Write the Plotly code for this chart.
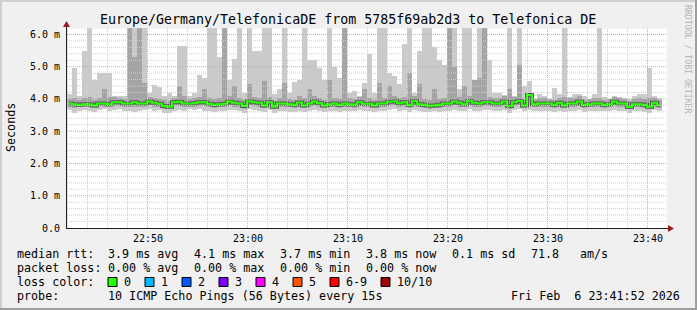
import numpy as np
import pandas as pd
import plotly.graph_objects as go

# ---------------- data (ms), one value per 30 s step ----------------
median = [3.86, 3.84, 3.82, 3.84, 3.84, 3.80, 3.86, 3.86, 3.84, 3.90,
          3.90, 3.86, 3.86, 3.90, 3.86, 3.86, 3.92, 3.88, 3.85, 3.78,
          3.76, 3.90, 3.91, 3.86, 3.86, 3.87, 3.90, 3.90, 3.85, 3.82,
          3.84, 3.85, 3.92, 3.88, 3.86, 3.78, 3.93, 3.90, 3.88, 3.80,
          3.90, 3.76, 3.86, 3.86, 3.84, 3.82, 3.89, 3.80, 3.86, 3.92,
          3.87, 3.80, 3.84, 3.86, 3.82, 3.86, 3.84, 3.83, 3.90, 3.85,
          3.85, 3.80, 3.86, 3.86, 3.91, 3.93, 3.87, 3.90, 3.82, 3.94,
          3.84, 3.82, 3.79, 3.80, 3.82, 3.86, 3.86, 3.92, 3.88, 3.84,
          3.94, 3.88, 3.86, 3.90, 3.90, 3.86, 3.86, 3.92, 3.78, 3.90,
          3.94, 3.80, 4.12, 3.84, 3.86, 3.86, 3.86, 3.82, 3.88, 3.80,
          3.86, 3.86, 3.92, 3.82, 3.84, 3.86, 3.86, 3.82, 3.84, 3.92,
          3.86, 3.86, 3.75, 3.84, 3.84, 3.82, 3.76, 3.88, 3.82]

ping_min = [3.66, 3.58, 3.64, 3.66, 3.62, 3.60, 3.66, 3.68, 3.64, 3.66,
            3.68, 3.64, 3.62, 3.60, 3.64, 3.66, 3.68, 3.64, 3.66, 3.58,
            3.56, 3.64, 3.66, 3.62, 3.68, 3.66, 3.68, 3.64, 3.62, 3.60,
            3.62, 3.64, 3.66, 3.66, 3.62, 3.58, 3.68, 3.66, 3.62, 3.60,
            3.66, 3.58, 3.62, 3.64, 3.60, 3.60, 3.64, 3.60, 3.64, 3.66,
            3.64, 3.60, 3.62, 3.64, 3.60, 3.64, 3.62, 3.62, 3.66, 3.64,
            3.62, 3.60, 3.64, 3.62, 3.66, 3.68, 3.64, 3.66, 3.60, 3.66,
            3.62, 3.60, 3.60, 3.62, 3.60, 3.64, 3.64, 3.66, 3.62, 3.62,
            3.68, 3.64, 3.62, 3.66, 3.66, 3.64, 3.64, 3.66, 3.58, 3.66,
            3.68, 3.62, 3.66, 3.64, 3.64, 3.62, 3.64, 3.60, 3.64, 3.60,
            3.64, 3.62, 3.66, 3.60, 3.62, 3.64, 3.64, 3.62, 3.64, 3.66,
            3.64, 3.62, 3.58, 3.62, 3.62, 3.60, 3.58, 3.66, 3.62]

ping_2nd = [3.76, 3.72, 3.74, 3.76, 3.74, 3.72, 3.77, 3.76, 3.74, 3.78,
            3.78, 3.75, 3.74, 3.76, 3.75, 3.76, 3.80, 3.76, 3.75, 3.70,
            3.68, 3.78, 3.78, 3.74, 3.76, 3.76, 3.78, 3.78, 3.74, 3.72,
            3.74, 3.75, 3.80, 3.76, 3.74, 3.70, 3.80, 3.78, 3.76, 3.72,
            3.78, 3.68, 3.74, 3.76, 3.74, 3.72, 3.76, 3.72, 3.75, 3.80,
            3.76, 3.72, 3.74, 3.76, 3.72, 3.76, 3.74, 3.73, 3.78, 3.75,
            3.74, 3.72, 3.76, 3.74, 3.78, 3.80, 3.76, 3.78, 3.72, 3.80,
            3.74, 3.72, 3.70, 3.72, 3.72, 3.76, 3.76, 3.80, 3.76, 3.74,
            3.80, 3.76, 3.74, 3.78, 3.78, 3.76, 3.76, 3.78, 3.70, 3.78,
            3.80, 3.72, 3.78, 3.74, 3.76, 3.76, 3.76, 3.72, 3.76, 3.72,
            3.76, 3.76, 3.78, 3.72, 3.74, 3.76, 3.76, 3.72, 3.74, 3.80,
            3.76, 3.76, 3.68, 3.74, 3.74, 3.72, 3.68, 3.78, 3.72]

ping_9th = [4.00, 4.02, 3.98, 4.02, 4.05, 3.98, 4.02, 4.30, 4.05, 4.06,
            4.04, 4.00, 6.50, 5.30, 6.50, 4.50, 4.06, 4.04, 4.00, 3.96,
            3.94, 4.04, 4.40, 4.08, 4.00, 4.02, 4.06, 4.30, 4.04, 4.00,
            4.02, 6.50, 4.10, 4.40, 4.04, 3.96, 4.45, 4.06, 4.04, 4.55,
            4.06, 3.94, 4.02, 4.50, 4.00, 3.98, 4.08, 4.04, 4.30, 4.08,
            4.04, 3.98, 4.60, 4.04, 4.00, 6.50, 4.02, 4.00, 4.06, 4.30,
            4.02, 3.98, 4.50, 4.04, 4.40, 4.08, 4.04, 4.06, 4.80, 4.10,
            4.45, 4.00, 3.96, 4.30, 4.00, 4.04, 6.50, 5.00, 4.06, 4.40,
            4.10, 4.60, 4.64, 6.50, 4.06, 4.02, 4.02, 4.08, 4.30, 4.06,
            5.05, 3.98, 4.20, 4.00, 4.02, 4.02, 4.00, 3.98, 4.04, 4.05,
            4.02, 4.02, 4.08, 3.98, 4.00, 4.02, 4.02, 3.98, 4.00, 4.06,
            4.02, 4.00, 3.94, 4.00, 4.02, 4.00, 4.02, 4.04, 3.98]

ping_max = [4.15, 4.97, 4.10, 5.48, 6.50, 4.60, 4.80, 4.80, 4.80, 4.10,
            4.10, 4.10, 6.50, 6.50, 6.50, 6.50, 4.20, 4.43, 4.38, 4.10,
            4.17, 4.10, 5.65, 5.65, 4.10, 4.20, 4.74, 4.66, 6.50, 6.50,
            5.30, 6.50, 4.60, 5.25, 6.50, 4.20, 6.50, 5.48, 5.48, 6.50,
            6.50, 4.15, 4.30, 6.50, 4.20, 4.52, 4.60, 6.50, 5.20, 5.20,
            4.95, 4.60, 6.50, 5.00, 4.64, 6.50, 4.20, 4.25, 4.10, 4.50,
            5.40, 4.20, 6.50, 6.50, 4.80, 4.70, 4.45, 5.70, 6.50, 4.20,
            5.50, 6.50, 6.50, 5.60, 5.20, 5.05, 6.50, 6.50, 4.30, 6.50,
            6.50, 4.40, 6.50, 6.50, 5.20, 4.20, 4.20, 4.12, 6.50, 4.10,
            6.50, 4.40, 4.55, 4.00, 4.15, 4.10, 4.00, 4.35, 4.15, 6.50,
            4.05, 4.15, 4.15, 4.10, 4.00, 4.15, 6.50, 4.05, 4.00, 4.10,
            4.06, 4.04, 4.00, 4.10, 4.15, 4.15, 4.97, 4.10, 4.02]

y_ticks = [0, 1, 2, 3, 4, 5, 6]
y_labels = ["0.0", "1.0 m", "2.0 m", "3.0 m", "4.0 m", "5.0 m", "6.0 m"]
x_tick_times = ["22:50", "23:00", "23:10", "23:20", "23:30", "23:40"]

title_text = "Europe/Germany/TelefonicaDE from 5785f69ab2d3 to Telefonica DE"
rtt_stats = ["3.9 ms avg", "4.1 ms max", "3.7 ms min", "3.8 ms now", "0.1 ms sd", "71.8", "am/s"]
loss_stats = ["0.00 % avg", "0.00 % max", "0.00 % min", "0.00 % now"]
loss_labels = ["0", "1", "2", "3", "4", "5", "6-9", "10/10"]
loss_colors = ["#26ff00", "#00b8ff", "#0059ff", "#7e00ff", "#ff00ff", "#ff5500", "#ff0000", "#a10000"]
probe_text = "10 ICMP Echo Pings (56 Bytes) every 15s"
stamp_text = "Fri Feb  6 23:41:52 2026"
watermark = "RRDTOOL / TOBI OETIKER"

# ---------------- layout constants ----------------
W, H = 697, 310
L, T = 67, 28
PW, PH = 600, 200
R = W - L - PW
B = H - T - PH
MONO = "DejaVu Sans Mono"
BACK = "#f0f0f0"


def X(px):
    return (px - L) / PW


def Y(py):
    return (T + PH - py) / PH


day = "2026-02-06"
start = pd.Timestamp(f"{day} 22:41:54")
end = start + pd.Timedelta(seconds=3600)
step_s = 30
n = len(median)
centers = start + pd.to_timedelta(step_s / 2 + step_s * np.arange(n), unit="s")

lo = np.array(ping_min)
p2 = np.array(ping_2nd)
p9 = np.array(ping_9th)
hi = np.array(ping_max)

fig = go.Figure()
fig.add_bar(x=centers, y=hi - lo, base=lo, width=step_s * 1000,
            marker=dict(color="#cacaca", line=dict(width=0)))
fig.add_bar(x=centers, y=p9 - p2, base=p2, width=step_s * 1000,
            marker=dict(color="#a4a4a4", line=dict(width=0)))
fig.add_scatter(x=centers, y=median, mode="lines",
                line=dict(color="#5e5e5e", width=4, shape="hvh"))
fig.add_scatter(x=centers, y=median, mode="lines",
                line=dict(color="#26ff00", width=2, shape="hvh"))

shapes = []
# grid (drawn above the data, like rrdtool)
half = pd.Timedelta(seconds=3)
t = pd.Timestamp(f"{day} 22:42:00")
while t < end:
    major = (t.minute % 10 == 0)
    shapes.append(dict(type="line", xref="x", yref="paper",
                       x0=t - half, x1=t - half, y0=0, y1=1, layer="above",
                       line=dict(color="#eb9c9c" if major else "#cfcfcf", width=1, dash="1px,1px")))
    t += pd.Timedelta(minutes=2)
for k in range(1, 32):
    v = k * 0.2
    major = (k % 5 == 0)
    shapes.append(dict(type="line", xref="paper", yref="y",
                       x0=0, x1=1, y0=v, y1=v, layer="above",
                       line=dict(color="#eb9c9c" if major else "#cfcfcf", width=1, dash="1px,1px")))

# axes with arrows
AX = "#202020"
ARW = "#9b1c1c"
shapes.append(dict(type="line", xref="paper", yref="paper", x0=X(67), x1=X(669),
                   y0=Y(228.5), y1=Y(228.5), line=dict(color=AX, width=1), layer="above"))
shapes.append(dict(type="line", xref="paper", yref="paper", x0=X(66.5), x1=X(66.5),
                   y0=Y(229), y1=Y(24), line=dict(color=AX, width=1), layer="above"))
shapes.append(dict(type="path", xref="paper", yref="paper", layer="above",
                   path=f"M {X(668)},{Y(225)} L {X(674)},{Y(228.5)} L {X(668)},{Y(232)} Z",
                   fillcolor=ARW, line=dict(width=0)))
shapes.append(dict(type="path", xref="paper", yref="paper", layer="above",
                   path=f"M {X(63)},{Y(27)} L {X(66.5)},{Y(21)} L {X(70)},{Y(27)} Z",
                   fillcolor=ARW, line=dict(width=0)))

# frame bevel
shapes.append(dict(type="rect", xref="paper", yref="paper", x0=X(0), x1=X(W), y0=Y(0), y1=Y(2),
                   fillcolor="#cfcfcf", line=dict(width=0), layer="below"))
shapes.append(dict(type="rect", xref="paper", yref="paper", x0=X(0), x1=X(2), y0=Y(0), y1=Y(H),
                   fillcolor="#cfcfcf", line=dict(width=0), layer="below"))
shapes.append(dict(type="rect", xref="paper", yref="paper", x0=X(0), x1=X(W), y0=Y(H - 2), y1=Y(H),
                   fillcolor="#9e9e9e", line=dict(width=0), layer="below"))
shapes.append(dict(type="rect", xref="paper", yref="paper", x0=X(W - 2), x1=X(W), y0=Y(0), y1=Y(H),
                   fillcolor="#9e9e9e", line=dict(width=0), layer="below"))

annotations = []


def ann(text, px, py, size=11.7, xanchor="left", color="#000000", angle=0):
    annotations.append(dict(text=text, x=X(px), y=Y(py), xref="paper", yref="paper",
                            xanchor=xanchor, yanchor="middle", showarrow=False,
                            textangle=angle, borderpad=0,
                            font=dict(family=MONO, size=size, color=color)))


ann(title_text, 348, 19.5, size=13.3, xanchor="center")
ann("Seconds", 11, 128, size=11.7, xanchor="center", angle=-90)
ann(watermark, 688, 59, size=8.2, xanchor="center", color="#b4b4b4", angle=90)

row1, row2, row3, row4 = 254, 268, 282, 296
ann("median rtt:", 16, row1)
for txt, px in zip(rtt_stats, [107, 193, 279, 365, 451, 530, 579]):
    ann(txt, px, row1)
ann("packet loss:", 16, row2)
for txt, px in zip(loss_stats, [107, 193, 279, 365]):
    ann(txt, px, row2)
ann("loss color:", 16, row3)
box_x = [108, 145, 182, 219, 256, 293, 330, 381]
for lab, col, bx in zip(loss_labels, loss_colors, box_x):
    shapes.append(dict(type="rect", xref="paper", yref="paper",
                       x0=X(bx), x1=X(bx + 9), y0=Y(277.5), y1=Y(286.5),
                       fillcolor=col, line=dict(color="#000000", width=1), layer="above"))
    ann(lab, bx + 15, row3)
ann("probe:", 16, row4)
ann(probe_text, 107, row4)
ann(stamp_text, 681, row4, xanchor="right")

tick_vals = [pd.Timestamp(f"{day} {hm}") for hm in x_tick_times]

fig.update_layout(
    width=W, height=H,
    margin=dict(l=L, r=R, t=T, b=B, pad=0),
    paper_bgcolor=BACK, plot_bgcolor="#ffffff",
    barmode="overlay", bargap=0, showlegend=False,
    shapes=shapes, annotations=annotations,
    font=dict(family=MONO, color="#000000"),
    xaxis=dict(type="date", range=[start, end], showgrid=False, zeroline=False,
               showline=False, ticks="", tickvals=tick_vals, ticktext=x_tick_times,
               tickfont=dict(family=MONO, size=10, color="#000000"),
               ticklabelstandoff=3, fixedrange=True),
    yaxis=dict(range=[0, 6.2], showgrid=False, zeroline=False, showline=False,
               ticks="", tickvals=y_ticks, ticktext=y_labels,
               tickfont=dict(family=MONO, size=10, color="#000000"),
               ticklabelstandoff=6, fixedrange=True),
)

fig.write_html("out.html")
